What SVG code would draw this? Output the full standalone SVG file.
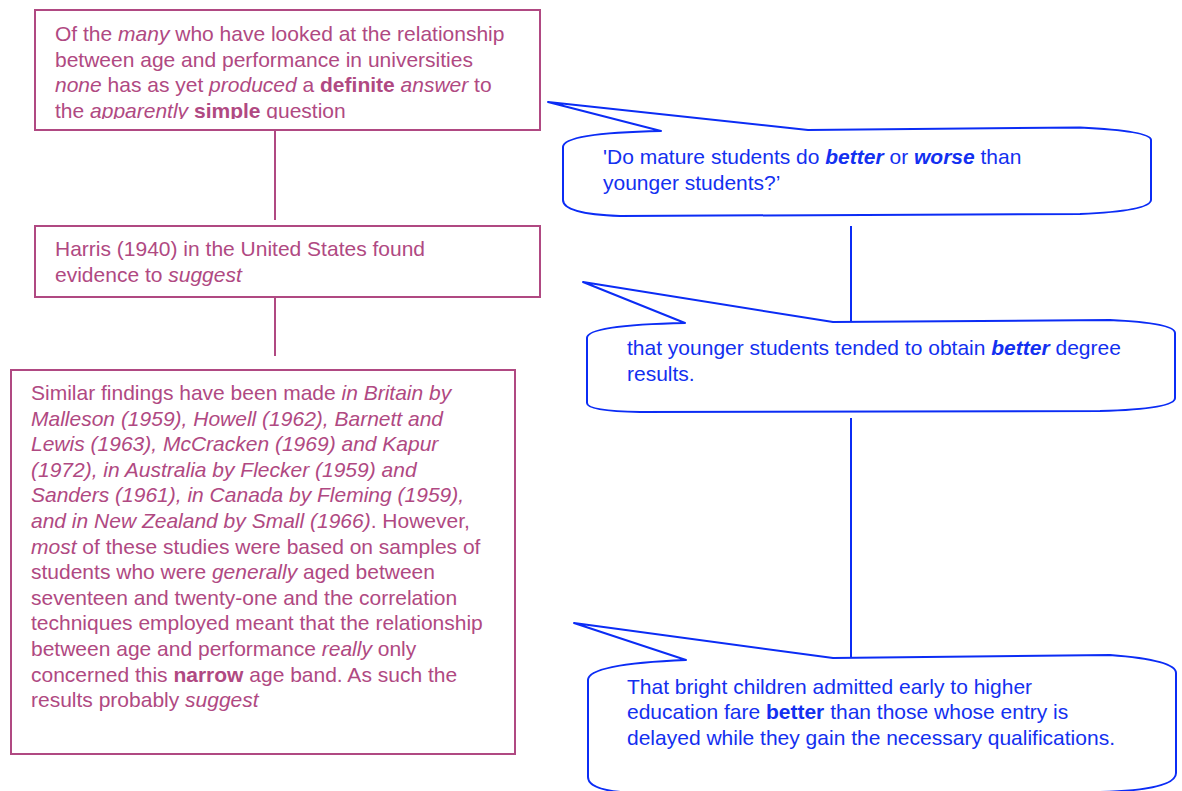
<svg xmlns="http://www.w3.org/2000/svg" width="1182" height="791" viewBox="0 0 1182 791">
<style>
text{font-family:"Liberation Sans",Arial,Helvetica,sans-serif;font-size:21px}
.p{fill:#b04982}
.b{fill:#1330f0}
.box{fill:#fff;stroke:#b04982;stroke-width:2}
.bub{fill:#fff;stroke:#0b2cf5;stroke-width:2;stroke-linejoin:round}
.lp{stroke:#b04982;stroke-width:2;fill:none}
.lb{stroke:#0b2cf5;stroke-width:2;fill:none}
.i{font-style:italic}
.w{font-weight:bold}
</style>
<defs>
<clipPath id="c1"><rect x="36" y="11" width="503" height="108"/></clipPath>
</defs>
<rect width="1182" height="791" fill="#fff"/>
<g id="connectors">
<line class="lp" x1="275" y1="130" x2="275" y2="220"/>
<line class="lp" x1="275" y1="297" x2="275" y2="356"/>
<line class="lb" x1="851" y1="226" x2="851" y2="322"/>
<line class="lb" x1="851" y1="418" x2="851" y2="659"/>
</g>
<g id="node1">
<rect class="box" x="35" y="10" width="505" height="120"/>
<g clip-path="url(#c1)">
<text class="p" x="55" y="41">Of the <tspan class="i">many</tspan> who have looked at the relationship</text>
<text class="p" x="55" y="66.5">between age and performance in universities</text>
<text class="p" x="55" y="92"><tspan class="i">none</tspan> has as yet <tspan class="i">produced</tspan> a <tspan class="w">definite</tspan> <tspan class="i">answer</tspan> to</text>
<text class="p" x="55" y="117.5">the <tspan class="i">apparently</tspan> <tspan class="w">simple</tspan> question</text>
</g>
</g>
<g id="node2">
<rect class="box" x="35" y="226" width="505" height="71"/>
<text class="p" x="55" y="256">Harris (1940) in the United States found</text>
<text class="p" x="55" y="281.5">evidence to <tspan class="i">suggest</tspan></text>
</g>
<g id="node3">
<rect class="box" x="11" y="370" width="504" height="384"/>
<text class="p" x="31" y="400">Similar findings have been made <tspan class="i">in Britain by</tspan></text>
<text class="p i" x="31" y="425.6">Malleson (1959), Howell (1962), Barnett and</text>
<text class="p i" x="31" y="451.2">Lewis (1963), McCracken (1969) and Kapur</text>
<text class="p i" x="31" y="476.8">(1972), in Australia by Flecker (1959) and</text>
<text class="p i" x="31" y="502.4">Sanders (1961), in Canada by Fleming (1959),</text>
<text class="p" x="31" y="528"><tspan class="i">and in New Zealand by Small (1966)</tspan>. However,</text>
<text class="p" x="31" y="553.6"><tspan class="i">most</tspan> of these studies were based on samples of</text>
<text class="p" x="31" y="579.2">students who were <tspan class="i">generally</tspan> aged between</text>
<text class="p" x="31" y="604.8">seventeen and twenty-one and the correlation</text>
<text class="p" x="31" y="630.4">techniques employed meant that the relationship</text>
<text class="p" x="31" y="656">between age and performance <tspan class="i">really</tspan> only</text>
<text class="p" x="31" y="681.6">concerned this <tspan class="w">narrow</tspan> age band. As such the</text>
<text class="p" x="31" y="707.2">results probably <tspan class="i">suggest</tspan></text>
</g>
<g id="bubble1">
<path class="bub" d="M548,102 L808,130 L1080,127.5 Q1151,131 1151,140 L1151,200 Q1150,211 1080,214 L620,216 Q563,214 563,200 L563,147 Q563,133 661,131 Z"/>
<text class="b" x="603" y="164"><tspan>'Do mature students do </tspan><tspan class="w i">better</tspan> or <tspan class="w i">worse</tspan> than</text>
<text class="b" x="603" y="190">younger students?’</text>
</g>
<g id="bubble2">
<path class="bub" d="M583,282 L833,322 L1110,320 Q1175,323 1175,333 L1175,398 Q1175,409 1100,411 L640,412 Q587,411 587,403 L587,338 Q587,325 685,323 Z"/>
<text class="b" x="627" y="355">that younger students tended to obtain <tspan class="w i">better</tspan> degree</text>
<text class="b" x="627" y="381">results.</text>
</g>
<g id="bubble3">
<path class="bub" d="M574,623 L833,658 L1110,655 Q1176,660 1176,673 L1176,773 Q1176,790 1100,792 L640,793 Q588,792 588,777 L588,680 Q588,664 686,660 Z"/>
<text class="b" x="627" y="693.5">That bright children admitted early to higher</text>
<text class="b" x="627" y="719">education fare <tspan class="w">better</tspan> than those whose entry is</text>
<text class="b" x="627" y="744.5">delayed while they gain the necessary qualifications.</text>
</g>
</svg>
